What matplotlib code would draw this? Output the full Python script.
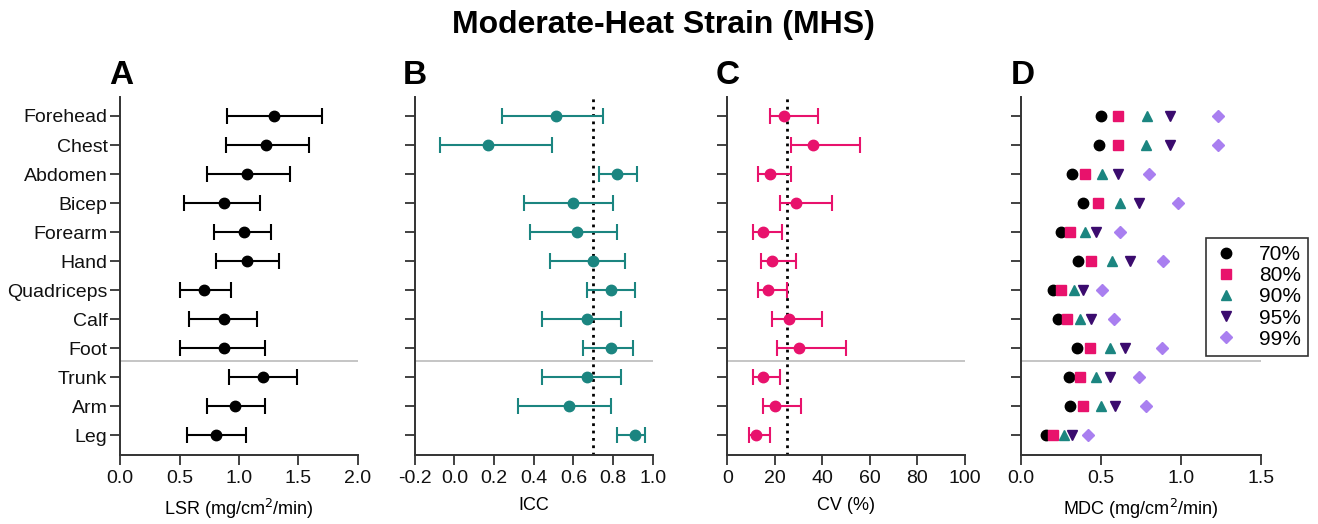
import matplotlib.pyplot as plt
import numpy as np

plt.rcParams['font.family'] = ['Liberation Sans', 'DejaVu Sans']

sites = ["Forehead", "Chest", "Abdomen", "Bicep", "Forearm", "Hand",
         "Quadriceps", "Calf", "Foot", "Trunk", "Arm", "Leg"]

# LSR mean and 95% CI
lsr = [1.29, 1.23, 1.07, 0.87, 1.04, 1.07, 0.71, 0.87, 0.87, 1.20, 0.97, 0.81]
lsr_lo = [0.90, 0.89, 0.73, 0.54, 0.79, 0.81, 0.50, 0.58, 0.50, 0.92, 0.73, 0.56]
lsr_hi = [1.70, 1.59, 1.43, 1.18, 1.27, 1.34, 0.93, 1.15, 1.22, 1.49, 1.22, 1.06]

# ICC and 95% CI
icc = [0.51, 0.17, 0.82, 0.60, 0.62, 0.70, 0.79, 0.67, 0.79, 0.67, 0.58, 0.91]
icc_lo = [0.24, -0.07, 0.73, 0.35, 0.38, 0.48, 0.67, 0.44, 0.65, 0.44, 0.32, 0.82]
icc_hi = [0.75, 0.49, 0.92, 0.80, 0.82, 0.86, 0.91, 0.84, 0.90, 0.84, 0.79, 0.96]

# CV (%) and 95% CI
cv = [24, 36, 18, 29, 15, 19, 17, 26, 30, 15, 20, 12]
cv_lo = [18, 27, 13, 22, 11, 14, 13, 19, 21, 11, 15, 9]
cv_hi = [38, 56, 27, 44, 23, 29, 25, 40, 50, 22, 31, 18]

# MDC at confidence levels
mdc70 = [0.50, 0.49, 0.32, 0.39, 0.25, 0.36, 0.20, 0.23, 0.35, 0.30, 0.31, 0.16]
mdc80 = [0.61, 0.61, 0.40, 0.48, 0.31, 0.44, 0.25, 0.29, 0.43, 0.37, 0.39, 0.20]
mdc90 = [0.79, 0.78, 0.51, 0.62, 0.40, 0.57, 0.33, 0.37, 0.56, 0.47, 0.50, 0.27]
mdc95 = [0.93, 0.93, 0.61, 0.74, 0.47, 0.68, 0.39, 0.44, 0.65, 0.56, 0.59, 0.32]
mdc99 = [1.23, 1.23, 0.80, 0.98, 0.62, 0.89, 0.51, 0.58, 0.88, 0.74, 0.78, 0.42]

teal = '#1b8580'
pink = '#e8126c'
y = np.arange(len(sites))

fig = plt.figure(figsize=(13.18, 5.24), dpi=100)
W, H = 1318, 524


def make_ax(left, right, top=97, bottom=454.5):
    ax = fig.add_axes([left / W, (H - bottom) / H, (right - left) / W, (bottom - top) / H])
    ax.set_ylim(11.67, -0.655)
    ax.set_yticks(y)
    for s in ['top', 'right']:
        ax.spines[s].set_visible(False)
    for s in ['left', 'bottom']:
        ax.spines[s].set_color('#333333')
        ax.spines[s].set_linewidth(1.4)
    ax.tick_params(axis='both', length=7, width=1.3, color='#333333',
                   labelsize=14, labelcolor='#111111')
    ax.tick_params(axis='x', pad=4)
    ax.tick_params(axis='y', pad=2)
    ax.axhline(8.45, color='#bbbbbb', lw=1.2, zorder=0)
    return ax


def ci_plot(ax, vals, lo, hi, color):
    vals = np.array(vals)
    err = [vals - np.array(lo), np.array(hi) - vals]
    ax.errorbar(vals, y, xerr=err, fmt='o', color=color, ecolor=color,
                ms=7.5, elinewidth=1.5, capsize=6, capthick=1.5, zorder=3)


# A
axA = make_ax(120, 358)
ci_plot(axA, lsr, lsr_lo, lsr_hi, 'black')
axA.set_xlim(0, 2.0)
axA.set_xticks([0, 0.5, 1.0, 1.5, 2.0])
axA.set_xticklabels(['0.0', '0.5', '1.0', '1.5', '2.0'])
axA.set_yticklabels(sites)
axA.set_xlabel('LSR (mg/cm$^2$/min)', fontsize=13, labelpad=7)

# B
axB = make_ax(414.7, 652.7)
axB.axvline(0.7, color='black', ls=':', lw=2, zorder=2)
ci_plot(axB, icc, icc_lo, icc_hi, teal)
axB.set_xlim(-0.2, 1.0)
axB.set_xticks(np.round(np.arange(-0.2, 1.01, 0.2), 1))
axB.set_xticklabels(['-0.2', '0.0', '0.2', '0.4', '0.6', '0.8', '1.0'])
axB.set_yticklabels([])
axB.set_xlabel('ICC', fontsize=13, labelpad=7)

# C
axC = make_ax(727.3, 965)
axC.axvline(25, color='black', ls=':', lw=2, zorder=2)
ci_plot(axC, cv, cv_lo, cv_hi, pink)
axC.set_xlim(0, 100)
axC.set_xticks([0, 20, 40, 60, 80, 100])
axC.set_yticklabels([])
axC.set_xlabel('CV (%)', fontsize=13, labelpad=7)

# D
axD = make_ax(1020.7, 1260.7)
axD.plot(mdc70, y, 'o', color='black', ms=7.5, ls='none', label='70%')
axD.plot(mdc80, y, 's', color=pink, ms=7.5, ls='none', label='80%')
axD.plot(mdc90, y, '^', color=teal, ms=7.5, ls='none', label='90%')
axD.plot(mdc95, y, 'v', color='#3b0b6e', ms=7.5, ls='none', label='95%')
axD.plot(mdc99, y, 'D', color='#a97ff0', ms=6, ls='none', label='99%')
axD.set_xlim(0, 1.5)
axD.set_xticks([0, 0.5, 1.0, 1.5])
axD.set_xticklabels(['0.0', '0.5', '1.0', '1.5'])
axD.set_yticklabels([])
axD.set_xlabel('MDC (mg/cm$^2$/min)', fontsize=13, labelpad=7)
leg = axD.legend(loc='upper left', bbox_to_anchor=((1206 - 1020.7) / 240, (454.5 - 238) / 357.5),
                 frameon=True, fancybox=False, edgecolor='black', fontsize=15,
                 handletextpad=1.0, labelspacing=0.1, borderpad=0.35, handlelength=1.2,
                 borderaxespad=0)
leg.get_frame().set_linewidth(1.2)

for ax, lab, xp in [(axA, 'A', 109), (axB, 'B', 403), (axC, 'C', 716), (axD, 'D', 1011)]:
    fig.text(xp / W, 1 - 75 / H, lab, fontsize=24, fontweight='bold', va='center', ha='left')

fig.text(0.503, 1 - 25 / H, 'Moderate-Heat Strain (MHS)', fontsize=23,
         fontweight='bold', ha='center', va='center')

fig.savefig('out.png', dpi=100)
